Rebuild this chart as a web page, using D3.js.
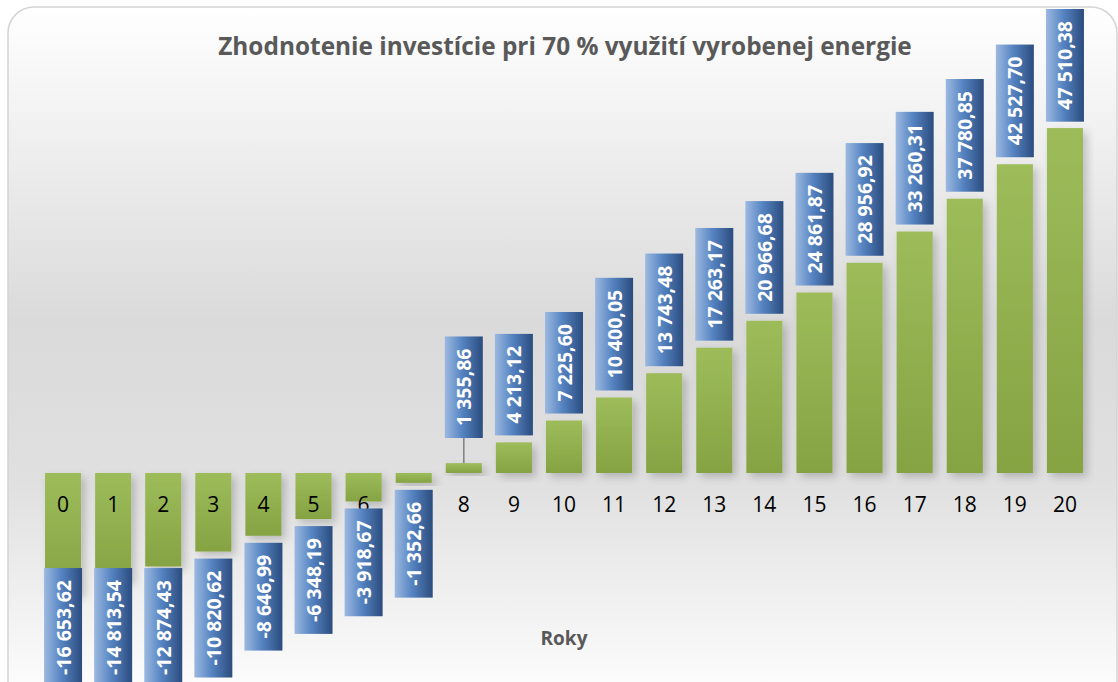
<!DOCTYPE html>
<meta charset="utf-8">
<script src="https://d3js.org/d3.v7.min.js"></script>
<style>
  body { margin: 0; background: #fff; }
  svg { display: block; }
</style>
<div id="chart"></div>
<script>

// data
var years = ["0","1","2","3","4","5","6","7","8","9","10","11","12","13","14","15","16","17","18","19","20"];
var values = [-16653.62, -14813.54, -12874.43, -10820.62, -8646.99, -6348.19, -3918.67, -1352.66,
              1355.86, 4213.12, 7225.60, 10400.05, 13743.48, 17263.17, 20966.68, 24861.87,
              28956.92, 33260.31, 37780.85, 42527.70, 47510.38];
var yDomain = [-20000, 50000];
var title = "Zhodnotenie investície pri 70 % využití vyrobenej energie";
var xTitle = "Roky";

var W = 1118, H = 682;

var svg = d3.select("#chart")
  .append("svg")
    .attr("width", W)
    .attr("height", H);

var defs = svg.append("defs");

// background gradient of the chart area
var bg = defs.append("linearGradient").attr("id", "bg")
  .attr("x1", 0).attr("y1", 0).attr("x2", 0).attr("y2", 1);
bg.append("stop").attr("offset", "0%").attr("stop-color", "#ffffff");
bg.append("stop").attr("offset", "45%").attr("stop-color", "#dadada");
bg.append("stop").attr("offset", "68%").attr("stop-color", "#e0e0e0");
bg.append("stop").attr("offset", "100%").attr("stop-color", "#ffffff");

// green bars
var gb = defs.append("linearGradient").attr("id", "barFill")
  .attr("x1", 0).attr("y1", 0).attr("x2", 0).attr("y2", 1);
gb.append("stop").attr("offset", "0%").attr("stop-color", "#9dbc5a");
gb.append("stop").attr("offset", "100%").attr("stop-color", "#85a342");

// blue label boxes
var lb = defs.append("linearGradient").attr("id", "lblFill")
  .attr("x1", 0).attr("y1", 0).attr("x2", 1).attr("y2", 0);
lb.append("stop").attr("offset", "0%").attr("stop-color", "#9cb9e0");
lb.append("stop").attr("offset", "45%").attr("stop-color", "#5684c2");
lb.append("stop").attr("offset", "100%").attr("stop-color", "#2b4c7e");

var shadow = defs.append("filter").attr("id", "shadow")
  .attr("x", "-30%").attr("y", "-30%").attr("width", "160%").attr("height", "160%");
shadow.append("feDropShadow")
  .attr("dx", 4).attr("dy", 4).attr("stdDeviation", 4)
  .attr("flood-color", "#000").attr("flood-opacity", 0.2);

// chart frame
svg.append("rect")
  .attr("x", 8).attr("y", 7)
  .attr("width", 1109).attr("height", 700)
  .attr("rx", 26).attr("ry", 26)
  .attr("fill", "url(#bg)")
  .attr("stroke", "#d4d4d4")
  .attr("stroke-width", 1.5);

// scales
var x = d3.scaleBand()
  .domain(years)
  .range([38, 1090])
  .paddingInner(0.28)
  .paddingOuter(0.14);

var y = d3.scaleLinear()
  .domain(yDomain)
  .range([618.2, 110]);

var y0 = y(0);

// bars
svg.append("g")
  .selectAll("rect")
  .data(values)
  .join("rect")
    .attr("x", function(d, i) { return x(years[i]); })
    .attr("width", x.bandwidth())
    .attr("y", function(d) { return Math.min(y(d), y0); })
    .attr("height", function(d) { return Math.abs(y(d) - y0); })
    .attr("fill", "url(#barFill)")
    .attr("filter", "url(#shadow)");

// category labels
svg.append("g")
  .selectAll("text")
  .data(years)
  .join("text")
    .attr("x", function(d) { return x(d) + x.bandwidth() / 2; })
    .attr("y", 512)
    .attr("text-anchor", "middle")
    .style("font-family", "'Open Sans', sans-serif")
    .style("font-size", "21px")
    .attr("fill", "#000")
    .text(function(d) { return d; });

// data labels
var sk = d3.formatLocale({ decimal: ",", thousands: " ", grouping: [3], currency: ["", ""], minus: "-" });
var fmt = sk.format(",.2f");

var lblG = svg.append("g");
var gap = 7, pad = 12, boxW = 38;
var topLimit = 9, bottomLimit = 687, minAbove = 35;

values.forEach(function(v, i) {
  var cx = x(years[i]) + x.bandwidth() / 2;
  var g = lblG.append("g");
  var box = g.append("rect");
  var t = g.append("text")
    .attr("text-anchor", "middle")
    .attr("dominant-baseline", "central")
    .style("font-family", "'Open Sans', sans-serif")
    .style("font-size", "19.5px")
    .style("font-weight", 700)
    .attr("fill", "#fff")
    .text(fmt(v));
  var len = t.node().getComputedTextLength();
  var bh = len + 2 * pad;
  var top, barEnd = y(v);
  if (v >= 0) {
    var bottom = Math.min(barEnd - gap, y0 - minAbove);
    top = Math.max(bottom - bh, topLimit);
    if (barEnd - (top + bh) > gap + 2) {
      g.insert("line", "rect")
        .attr("x1", cx).attr("x2", cx)
        .attr("y1", top + bh).attr("y2", barEnd)
        .attr("stroke", "#808080")
        .attr("stroke-width", 1.5);
    }
  } else {
    top = Math.min(barEnd + gap, bottomLimit - bh);
  }
  box.attr("x", cx - boxW / 2)
    .attr("y", top)
    .attr("width", boxW)
    .attr("height", bh)
    .attr("fill", "url(#lblFill)");
  t.attr("transform", "translate(" + cx + "," + (top + bh / 2) + ") rotate(-90)");
});

// title
var tt = svg.append("text")
  .attr("x", 565)
  .attr("y", 55)
  .attr("text-anchor", "middle")
  .style("font-family", "'Open Sans', sans-serif")
  .style("font-weight", 700)
  .style("font-size", "22px")
  .attr("fill", "#595959")
  .text(title);
var tl = tt.node().getComputedTextLength();
tt.style("font-size", (22 * 694 / tl) + "px");

// axis title
svg.append("text")
  .attr("x", 564)
  .attr("y", 645)
  .attr("text-anchor", "middle")
  .style("font-family", "'Open Sans', sans-serif")
  .style("font-weight", 700)
  .style("font-size", "19px")
  .attr("fill", "#595959")
  .text(xTitle);

</script>
